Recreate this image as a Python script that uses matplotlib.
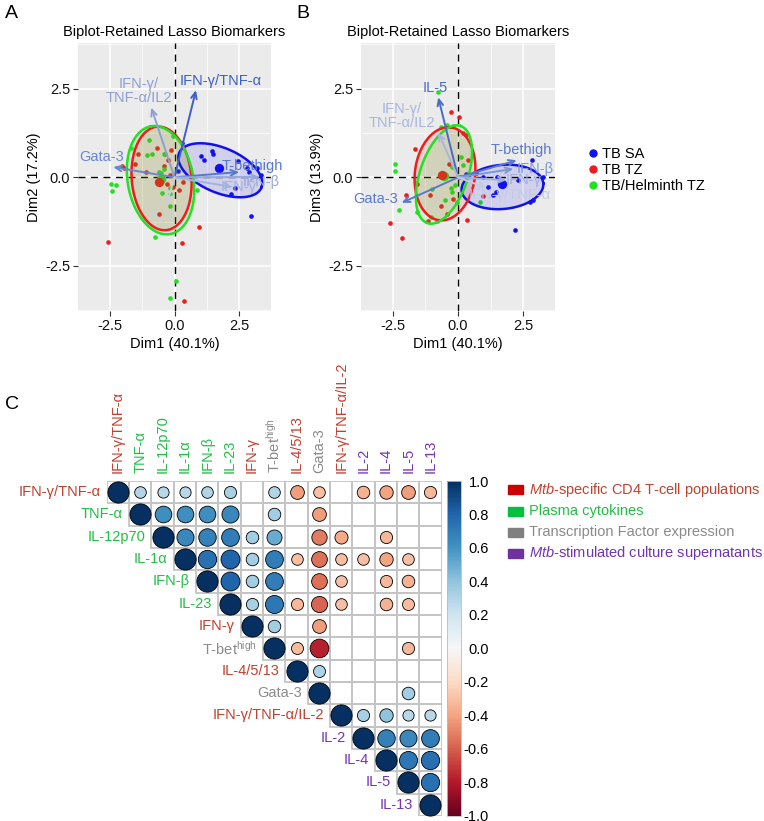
import numpy as np
import matplotlib.pyplot as plt
from matplotlib.patches import Rectangle
from matplotlib.lines import Line2D
import matplotlib as mpl

plt.rcParams['font.family'] = ['Liberation Sans', 'DejaVu Sans']
plt.rcParams['mathtext.fontset'] = 'custom'
plt.rcParams['mathtext.rm'] = 'Liberation Sans'
plt.rcParams['mathtext.it'] = 'Liberation Sans:italic'

# ---------------- biplot data ----------------
# panel A : Dim1 vs Dim2
sa_A_x = [0.30, 0.13, 1.03, 1.15, 1.45, 1.47, 2.47, 2.82, 2.88, 3.17, 3.33, 2.32, 2.18, 2.95]
sa_A_y = [0.97, 0.18, 0.59, 0.50, 0.73, 0.65, 0.47, 0.27, 0.15, 0.27, 0.06, -0.29, -0.46, -1.10]
tz_A_x = [-2.56, -2.02, -1.95, -1.54, -1.41, -1.12, -0.67, -0.38, -0.13, -0.26, -0.41, -0.19, -0.28,
          0.32, 0.19, -0.07, -0.60, 0.96, 0.30, 0.38]
tz_A_y = [-1.82, 0.31, 0.27, 0.38, 0.66, 0.15, 0.82, 0.67, 0.76, 0.48, 0.31, 0.06, -0.18,
          -0.13, -0.37, -0.27, -1.02, -1.39, -1.86, -3.50]
hel_A_x = [-2.44, -2.27, -2.40, -1.70, -1.00, -1.07, -0.86, -0.40, -0.06, -0.58, -0.42, -0.51, -0.19,
           -0.47, -0.19, 0.87, -0.19, -0.77, 0.04, -0.19]
hel_A_y = [-0.18, -0.22, -0.38, 0.83, 1.04, 0.62, 0.66, 0.66, 1.18, 0.15, 0.24, 0.12, -0.29,
           -0.44, -0.46, -0.35, -0.81, -1.69, -2.91, -3.39]
means_A_x = [1.73, -0.60, -0.52]
means_A_y = [0.27, -0.13, -0.05]

# panel B : Dim1 vs Dim3
sa_B_x = [0.31, 0.69, 0.97, 1.49, 1.17, 1.36, 1.46, 2.32, 2.83, 3.28, 2.77, 2.90, 2.19]
sa_B_y = [0.10, 0.12, 0.01, 0.01, -0.27, -0.51, -0.41, -0.08, 0.48, 0.01, -0.69, -0.63, -1.49]
tz_B_x = [-2.62, -2.14, -2.00, -1.65, -0.28, 0.05, 0.18, 0.31, 0.36, 0.95, -1.17, -1.59, -0.44,
          0.40, -0.35, -1.08, -0.67, -0.18, 0.08]
tz_B_y = [-1.28, -1.72, -0.51, 0.81, 1.85, 1.71, 1.24, 1.20, -1.21, -0.53, -1.23, -0.20, -1.02,
          0.48, 0.38, -0.51, -0.81, -0.60, 0.00]
hel_B_x = [-2.42, -2.42, -2.28, -1.56, -0.81, -0.78, -0.67, -0.44, -0.20, 0.10, 0.20, -0.24, -0.28,
           -0.24, -1.01, -0.50, -0.05, 0.85, -1.05, -0.12]
hel_B_y = [0.37, 0.17, -0.91, -0.97, -1.23, 2.40, 1.43, 1.49, 1.46, 0.57, 0.34, 0.29, -0.29,
           -0.41, -0.32, -0.65, -0.69, -0.69, -1.11, -0.22]
means_B_x = [1.70, -0.62, -0.55]
means_B_y = [-0.20, 0.06, 0.05]

# ellipses: centre x, centre y, axis-1 vector, axis-2 vector
ell_A_sa = [1.77, 0.20, 1.60, -0.47, 0.28, 0.60]
ell_A_tz = [-0.50, -0.03, -0.17, 1.46, 1.15, 0.07]
ell_A_hel = [-0.54, -0.08, -0.37, 1.52, 1.25, 0.16]
ell_B_sa = [1.71, -0.27, 1.57, 0.10, -0.07, 0.62]
ell_B_tz = [-0.50, 0.10, 0.22, 1.31, 1.15, -0.10]
ell_B_hel = [-0.54, 0.08, 0.64, 1.37, 0.87, -0.22]

# variable arrows
var_A = ["IFN-γ/TNF-α", "IFN-γ/\nTNF-α/IL2", "Gata-3", "T-bethigh", "IFN-β", "IFN-γ", "IL-5"]
var_A_x = [0.83, -0.90, -2.37, 2.50, 3.27, 2.24, -0.30]
var_A_y = [2.46, 1.97, 0.29, 0.15, 0.01, -0.27, -0.75]
lab_A_x = [1.80, -1.38, -2.83, 3.00, 3.37, 2.46, -0.45]
lab_A_y = [2.72, 2.44, 0.57, 0.31, -0.13, -0.27, -1.07]
col_A = ["#3d5fc8", "#8d9fd6", "#6a86d0", "#5878cc", "#95a8db", "#a3b3de", "#c9cfe0"]

var_B = ["IL-5", "IFN-γ/\nTNF-α/IL2", "Gata-3", "T-bethigh", "IFN-β", "IFN-γ", "IFN-γ/TNF-α"]
var_B_x = [-0.76, -0.76, -2.17, 2.26, 2.13, 1.87, 1.10]
var_B_y = [2.26, 1.27, -0.72, 0.48, 0.24, -0.08, -0.30]
lab_B_x = [-0.88, -2.17, -3.17, 2.42, 2.96, 2.54, 2.00]
lab_B_y = [2.52, 1.72, -0.62, 0.76, 0.24, -0.08, -0.50]
col_B = ["#4a6acb", "#a8b5de", "#5a79cd", "#5a79cd", "#7f96d6", "#9eb0dd", "#c2cbe3"]

groups = ["TB SA", "TB TZ", "TB/Helminth TZ"]
group_colors = ["#1010f0", "#ee1c1c", "#22e022"]

# ---------------- correlation matrix ----------------
markers = ["IFN-γ/TNF-α", "TNF-α", "IL-12p70", "IL-1α", "IFN-β", "IL-23", "IFN-γ",
           "T-bet$^{\\mathrm{high}}$", "IL-4/5/13", "Gata-3", "IFN-γ/TNF-α/IL-2",
           "IL-2", "IL-4", "IL-5", "IL-13"]
marker_group = [0, 1, 1, 1, 1, 1, 0, 2, 0, 2, 0, 3, 3, 3, 3]
n = np.nan
corr_rows = [
    [1, .30, .28, .28, .30, .33, n, .30, -.42, -.30, n, -.35, -.40, -.42, -.33],
    [1, .62, .62, .62, .65, n, .35, n, -.42, n, n, n, n, n],
    [1, .65, .68, .70, .35, .50, n, -.52, -.38, n, -.33, n, n],
    [1, .75, .80, .35, .70, -.30, -.55, -.30, -.30, -.40, -.30, n],
    [1, .80, .35, .70, n, -.55, -.30, n, -.33, -.35, n],
    [1, .33, .72, -.33, -.58, -.30, n, -.35, -.32, n],
    [1, .35, n, -.42, n, n, n, n, n],
    [1, -.32, -.78, n, n, n, -.33, n],
    [1, .32, n, n, n, n, n],
    [1, n, n, n, .35, n],
    [1, .33, .40, .28, .28],
    [1, .68, .65, .70],
    [1, .72, .75],
    [1, .75],
    [1],
]
cbar_ticks = [-1.0, -0.8, -0.6, -0.4, -0.2, 0.0, 0.2, 0.4, 0.6, 0.8, 1.0]
legend_C = ["$\\mathit{Mtb}$-specific CD4 T-cell populations", "Plasma cytokines",
            "Transcription Factor expression", "$\\mathit{Mtb}$-stimulated culture supernatants"]
box_colors = ["#cc0000", "#00c040", "#808080", "#7030a0"]
text_colors = ["#c0412f", "#1fbf45", "#8a8a8a", "#7434b0"]

W, H = 764, 821
fig = plt.figure(figsize=(W / 100, H / 100), dpi=100)


def px_axes(x0, y0, x1, y1):
    return fig.add_axes([x0 / W, 1 - y1 / H, (x1 - x0) / W, (y1 - y0) / H])


def ellipse(ax, e, color):
    t = np.linspace(0, 2 * np.pi, 200)
    xs = e[0] + np.cos(t) * e[2] + np.sin(t) * e[4]
    ys = e[1] + np.cos(t) * e[3] + np.sin(t) * e[5]
    ax.fill(xs, ys, color=color, alpha=0.12, lw=0, zorder=3)
    ax.plot(xs, ys, color=color, lw=1.8, zorder=4)


def biplot(ax, pts, means, ells, vars_, vx, vy, lx, ly, cols, ylab, title):
    ax.set_facecolor("#EBEBEB")
    ax.set_xlim(-3.73, 3.73)
    ax.set_ylim(-3.77, 3.79)
    for v in [-3.75, -1.25, 1.25, 3.75]:
        ax.axvline(v, color="white", lw=0.5, zorder=0)
        ax.axhline(v, color="white", lw=0.5, zorder=0)
    for v in [-2.5, 0, 2.5]:
        ax.axvline(v, color="white", lw=1.1, zorder=0)
        ax.axhline(v, color="white", lw=1.1, zorder=0)
    ax.axhline(0, color="black", lw=1.0, ls=(0, (5, 4)), zorder=1)
    ax.axvline(0, color="black", lw=1.0, ls=(0, (5, 4)), zorder=1)
    for (px, py), c in zip(pts, group_colors):
        ax.scatter(px, py, s=11, color=c, lw=0, zorder=2)
    for k in [2, 1, 0]:
        ax.scatter(means[0][k], means[1][k], s=45, color=group_colors[k], lw=0, zorder=2)
    for e, c in zip(ells, group_colors):
        ellipse(ax, e, c)
    for name, x, y, tx, ty, c in zip(vars_, vx, vy, lx, ly, cols):
        ax.annotate("", xy=(x, y), xytext=(0, 0),
                    arrowprops=dict(arrowstyle="->,head_length=0.45,head_width=0.2",
                                    color=c, lw=1.4, shrinkA=0, shrinkB=0), zorder=5)
        ax.text(tx, ty, name, color=c, fontsize=10.5, ha="center", va="center",
                linespacing=1.0, zorder=6, clip_on=False)
    ax.set_xticks([-2.5, 0, 2.5])
    ax.set_yticks([-2.5, 0, 2.5])
    ax.set_xticklabels(["-2.5", "0.0", "2.5"])
    ax.set_yticklabels(["-2.5", "0.0", "2.5"])
    ax.tick_params(length=3.5, width=0.8, color="#333333", labelsize=10.5,
                   labelcolor="#111111", pad=2)
    for s in ax.spines.values():
        s.set_visible(False)
    ax.set_xlabel("Dim1 (40.1%)", fontsize=10.5, labelpad=3)
    ax.set_ylabel(ylab, fontsize=10.5, labelpad=3)
    ax.set_title(title, fontsize=10.5, pad=5)


axA = px_axes(78, 43, 271, 311)
biplot(axA, [(sa_A_x, sa_A_y), (tz_A_x, tz_A_y), (hel_A_x, hel_A_y)], (means_A_x, means_A_y),
       [ell_A_sa, ell_A_tz, ell_A_hel], var_A, var_A_x, var_A_y, lab_A_x, lab_A_y, col_A,
       "Dim2 (17.2%)", "Biplot-Retained Lasso Biomarkers")
axB = px_axes(361, 43, 555, 311)
biplot(axB, [(sa_B_x, sa_B_y), (tz_B_x, tz_B_y), (hel_B_x, hel_B_y)], (means_B_x, means_B_y),
       [ell_B_sa, ell_B_tz, ell_B_hel], var_B, var_B_x, var_B_y, lab_B_x, lab_B_y, col_B,
       "Dim3 (13.9%)", "Biplot-Retained Lasso Biomarkers")

handles = [Line2D([], [], ls="none", marker="o", ms=6, mec="none", mfc=c) for c in group_colors]
fig.legend(handles, groups, loc="upper left", bbox_to_anchor=(578 / W, 1 - 141 / H),
           frameon=False, fontsize=10.5, handletextpad=0.05, labelspacing=0.15,
           handlelength=1.2, borderaxespad=0)

fig.text(5 / W, 1 - 14 / H, "A", fontsize=14, va="center")
fig.text(296 / W, 1 - 14 / H, "B", fontsize=14, va="center")
fig.text(5 / W, 1 - 404 / H, "C", fontsize=14, va="center")

# ---------------- panel C ----------------
cell = 22.33
axC = px_axes(106.7, 481, 106.7 + 15 * cell, 481 + 15 * cell)
axC.set_xlim(0, 15)
axC.set_ylim(15, 0)
axC.axis("off")
cmap = plt.get_cmap("RdBu")
norm = mpl.colors.Normalize(-1, 1)
for i, row in enumerate(corr_rows):
    for k, r in enumerate(row):
        j = i + k
        axC.add_patch(Rectangle((j, i), 1, 1, fill=False, ec="#c4c4c4", lw=1.3, zorder=1))
        if np.isnan(r):
            continue
        d = 0.95 * np.sqrt(abs(r)) * cell * 0.72
        axC.scatter(j + 0.5, i + 0.5, s=d ** 2, color=cmap(norm(r)), ec="black",
                    lw=0.6, zorder=2)
    c = text_colors[marker_group[i]]
    axC.text(i - 0.27, i + 0.5, markers[i], color=c, fontsize=10.5, ha="right",
             va="center", clip_on=False)
    axC.text(i + 0.5, -0.36, markers[i], color=c, fontsize=10.5, ha="center",
             va="bottom", rotation=90, clip_on=False)

cax = px_axes(447, 481, 461, 481 + 15 * cell)
cb = fig.colorbar(mpl.cm.ScalarMappable(norm=norm, cmap=cmap), cax=cax)
cb.set_ticks(cbar_ticks)
cb.ax.set_yticklabels(["%.1f" % v for v in cbar_ticks])
cb.ax.tick_params(length=0, labelsize=10.5, pad=20)
for lbl in cb.ax.get_yticklabels():
    lbl.set_ha("right")
cb.outline.set_edgecolor("#bbbbbb")
cb.outline.set_linewidth(0.6)

for k, (lab, bc, tc) in enumerate(zip(legend_C, box_colors, text_colors)):
    y = 490 + k * 21
    fig.add_artist(Rectangle((508 / W, 1 - (y + 4.5) / H), 15 / W, 9 / H, color=bc,
                             transform=fig.transFigure))
    fig.text(529 / W, 1 - y / H, lab, color=tc, fontsize=10.5, va="center")

fig.savefig("out.png", dpi=100)
